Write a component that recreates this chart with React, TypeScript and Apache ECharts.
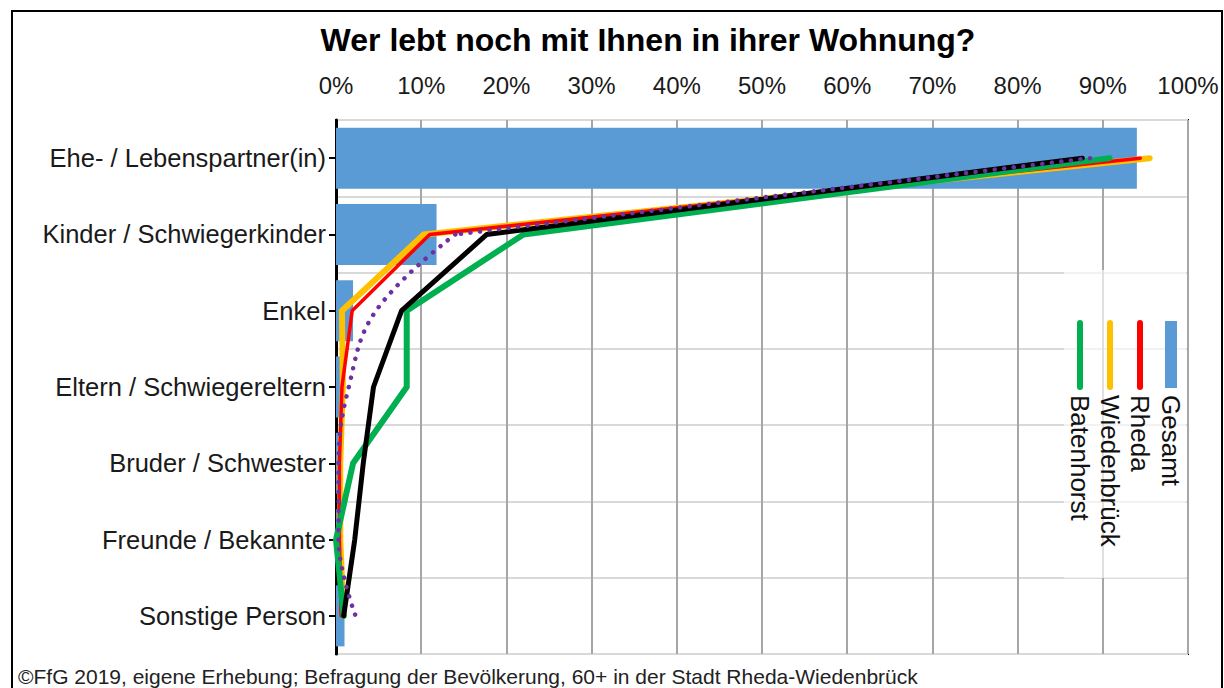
import React, { useEffect, useRef } from "react";
import * as echarts from "echarts";

const categories = [
  "Ehe- / Lebenspartner(in)",
  "Kinder / Schwiegerkinder",
  "Enkel",
  "Eltern / Schwiegereltern",
  "Bruder / Schwester",
  "Freunde / Bekannte",
  "Sonstige Person",
];
const xTicks = [0, 10, 20, 30, 40, 50, 60, 70, 80, 90, 100];

const gesamt = [94, 11.8, 2, 0.6, 0.3, 0.3, 1];
const wiedenbrueck = [95.5, 10.3, 0.7, 0.8, 0.5, 0.5, 0.9];
const rheda = [94.4, 11, 1.9, 0.7, 0.4, 0.4, 0.6];
const batenhorst = [90.8, 22, 8.3, 8.3, 2, 0, 0.9];
const blackSeries = [87.6, 17.7, 7.7, 4.4, 3.2, 2.2, 0.9];
const purpleSeries = [88.5, 14, 4.7, 1.5, 0.3, 0.3, 2.3];

const legendItems = [
  { name: "Gesamt", color: "#5B9BD5", kind: "bar", x: 1171 },
  { name: "Rheda", color: "#FF0000", kind: "line", x: 1140 },
  { name: "Wiedenbrück", color: "#FFC000", kind: "line", x: 1110 },
  { name: "Batenhorst", color: "#00B050", kind: "line", x: 1080 },
];

const FONT = "Liberation Sans, Arial, sans-serif";

export default function App() {
  const ref = useRef<HTMLDivElement>(null);
  useEffect(() => {
    if (!ref.current) return;
    const chart = echarts.init(ref.current, undefined, { renderer: "svg" });
    const lineSeries = (name: string, data: (number | null)[], color: string, width: number, extra: any = {}) => ({
      name,
      type: "line",
      data,
      symbol: "none",
      connectNulls: false,
      lineStyle: { color, width, cap: "round", join: "round", ...(extra.lineStyle || {}) },
      smooth: extra.smooth || false,
      z: extra.z || 3,
    });
    // purple: smooth lower part, straight from Kinder to Ehe
    const purpleLower = purpleSeries.map((v, i) => (i === 0 ? null : v));
    const purpleUpper = purpleSeries.map((v, i) => (i <= 1 ? v : null));

    const graphics: any[] = [
      {
        type: "rect",
        shape: { x: 12, y: 11, width: 1210, height: 700 },
        style: { fill: "none", stroke: "#000", lineWidth: 2 },
        silent: true,
        z: 0,
      },
      {
        type: "text",
        x: 648,
        y: 40,
        style: {
          text: "Wer lebt noch mit Ihnen in ihrer Wohnung?",
          font: `bold 32px ${FONT}`,
          fill: "#000",
          textAlign: "center",
          textVerticalAlign: "middle",
        },
      },
      {
        type: "text",
        x: 18,
        y: 676,
        style: {
          text: "©FfG 2019, eigene Erhebung; Befragung der Bevölkerung, 60+ in der Stadt Rheda-Wiedenbrück",
          font: `21px ${FONT}`,
          fill: "#222",
          textAlign: "left",
          textVerticalAlign: "middle",
        },
      },
      {
        type: "rect",
        shape: { x: 1064, y: 270, width: 122, height: 308 },
        style: { fill: "rgba(255,255,255,0.65)" },
        z: 10,
      },
    ];
    legendItems.forEach((it) => {
      if (it.kind === "bar") {
        graphics.push({
          type: "rect",
          shape: { x: it.x - 6, y: 321, width: 12, height: 67 },
          style: { fill: it.color },
          z: 11,
        });
      } else {
        graphics.push({
          type: "line",
          shape: { x1: it.x, y1: 323, x2: it.x, y2: 387 },
          style: { stroke: it.color, lineWidth: 6, lineCap: "round" },
          z: 11,
        });
      }
      graphics.push({
        type: "text",
        x: it.x,
        y: 395,
        rotation: -Math.PI / 2,
        style: {
          text: it.name,
          font: `26px ${FONT}`,
          fill: "#111",
          textAlign: "left",
          textVerticalAlign: "middle",
        },
        z: 11,
      });
    });

    chart.setOption({
      animation: false,
      backgroundColor: "#fff",
      grid: {
        left: 336,
        right: 36,
        top: 120,
        bottom: 34,
        show: true,
        borderColor: "#000",
        borderWidth: 2,
        containLabel: false,
      },
      xAxis: {
        type: "value",
        position: "top",
        min: xTicks[0],
        max: xTicks[xTicks.length - 1],
        interval: 10,
        axisLine: { show: false },
        axisTick: { show: false },
        axisLabel: {
          formatter: "{value}%",
          fontFamily: FONT,
          fontSize: 24,
          color: "#1a1a1a",
          margin: 23,
        },
        splitLine: { show: true, lineStyle: { color: "#a6a6a6", width: 2 } },
      },
      yAxis: {
        type: "category",
        inverse: true,
        data: categories,
        axisLine: { show: true, lineStyle: { color: "#000", width: 3 } },
        axisTick: { show: true, alignWithLabel: true, length: 7, lineStyle: { color: "#000", width: 2 } },
        axisLabel: { fontFamily: FONT, fontSize: 25.5, color: "#1a1a1a", margin: 10 },
        splitLine: { show: true, lineStyle: { color: "#d9d9d9", width: 2 } },
      },
      series: [
        {
          name: "Gesamt",
          type: "bar",
          data: gesamt,
          barCategoryGap: "20%",
          itemStyle: { color: "#5B9BD5" },
          z: 2,
        },
        lineSeries("Wiedenbrück", wiedenbrueck, "#FFC000", 6),
        lineSeries("Rheda", rheda, "#FF0000", 3.5),
        lineSeries("Batenhorst", batenhorst, "#00B050", 6),
        lineSeries("Sonstige 1", blackSeries, "#000000", 5),
        lineSeries("Sonstige 2", purpleLower, "#7030A0", 4.5, {
          smooth: 0.4,
          lineStyle: { type: [0.1, 9.5], cap: "round" },
          z: 4,
        }),
        lineSeries("Sonstige 2b", purpleUpper, "#7030A0", 4.5, {
          lineStyle: { type: [0.1, 9.5], cap: "round" },
          z: 4,
        }),
      ],
      graphic: graphics,
    });
    return () => chart.dispose();
  }, []);
  return (
    <div
      ref={ref}
      style={{ position: "fixed", left: 0, top: 0, width: 1224, height: 688 }}
    />
  );
}
